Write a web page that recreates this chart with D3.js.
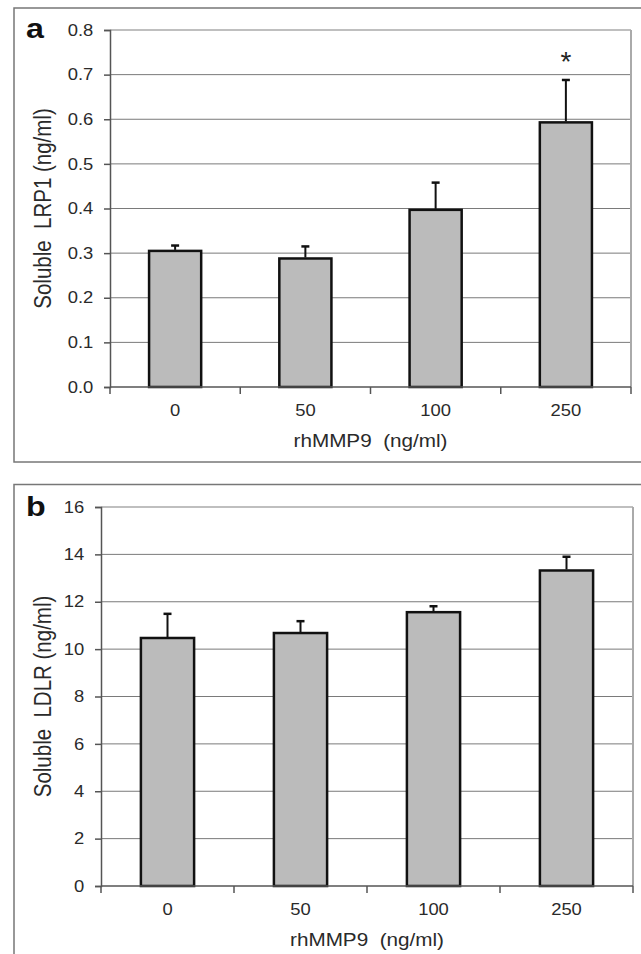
<!DOCTYPE html>
<html>
<head>
<meta charset="utf-8">
<script src="https://cdn.jsdelivr.net/npm/d3@7"></script>
<style>
  body { margin: 0; background: #fff; }
  svg { display: block; font-family: "Liberation Sans", Arial, sans-serif; }
</style>
</head>
<body>
<svg id="figure" width="641" height="954"></svg>
<script>
const doses = ["0", "50", "100", "250"];

const lrp1Means = [0.305, 0.288, 0.397, 0.593];
const lrp1Errors = [0.012, 0.027, 0.061, 0.095];
const lrp1Marks = ["", "", "", "*"];
const lrp1Ticks = [0, 0.1, 0.2, 0.3, 0.4, 0.5, 0.6, 0.7, 0.8];

const ldlrMeans = [10.47, 10.68, 11.56, 13.32];
const ldlrErrors = [1.02, 0.50, 0.25, 0.58];
const ldlrMarks = ["", "", "", ""];
const ldlrTicks = [0, 2, 4, 6, 8, 10, 12, 14, 16];

// the source figure is a little wider than tall, so text gets stretched sideways
const stretch = 1.15;
const textColour = "#2a2a2a";

const svg = d3.select("#figure");

const drawPanel = p => {
    // outer box, it runs off the right side of the page
    svg.append("rect")
        .attr("x", 14)
        .attr("y", p.frameTop)
        .attr("width", 700)
        .attr("height", p.frameBottom - p.frameTop)
        .attr("fill", "none")
        .attr("stroke", "#777")
        .attr("stroke-width", 1.5);

    const xScale = d3.scaleBand()
        .domain(doses)
        .range([p.left, p.right])
        .paddingInner(0.6)
        .paddingOuter(0.3);
    const yScale = d3.scaleLinear()
        .domain([p.ticks[0], p.ticks[p.ticks.length - 1]])
        .range([p.bottom, p.top]);

    // grid lines
    svg.append("g")
        .selectAll("line")
        .data(p.ticks.slice(1))
        .join("line")
        .attr("x1", p.left)
        .attr("x2", p.right)
        .attr("y1", d => yScale(d))
        .attr("y2", d => yScale(d))
        .attr("stroke", d => d === p.ticks[p.ticks.length - 1] ? "#aaa" : "#7a7a7a")
        .attr("stroke-width", d => d === p.ticks[p.ticks.length - 1] ? 1.5 : 1);

    svg.append("line")
        .attr("x1", p.right)
        .attr("x2", p.right)
        .attr("y1", p.top)
        .attr("y2", p.bottom)
        .attr("stroke", "#aaa")
        .attr("stroke-width", 2);

    // bars
    svg.append("g")
        .selectAll("rect")
        .data(p.means)
        .join("rect")
        .attr("x", (d, i) => xScale(doses[i]))
        .attr("width", xScale.bandwidth())
        .attr("y", d => yScale(d))
        .attr("height", d => yScale(p.ticks[0]) - yScale(d))
        .attr("fill", "#bbbbbb")
        .attr("stroke", "#111")
        .attr("stroke-width", 2.5);

    // error bars (upper only)
    const errs = svg.append("g")
        .selectAll("g")
        .data(p.means.map((m, i) => ({ dose: doses[i], mean: m, err: p.errors[i], mark: p.marks[i] })))
        .join("g")
        .attr("transform", d => `translate(${xScale(d.dose) + xScale.bandwidth() / 2},0)`);
    errs.append("line")
        .attr("y1", d => yScale(d.mean) - 1)
        .attr("y2", d => yScale(d.mean + d.err))
        .attr("stroke", "#111")
        .attr("stroke-width", 2);
    errs.append("line")
        .attr("x1", -4)
        .attr("x2", 4)
        .attr("y1", d => yScale(d.mean + d.err))
        .attr("y2", d => yScale(d.mean + d.err))
        .attr("stroke", "#111")
        .attr("stroke-width", 2.5);
    errs.append("text")
        .attr("y", d => yScale(d.mean + d.err) - 9)
        .attr("text-anchor", "middle")
        .attr("font-size", 28)
        .attr("fill", "#222")
        .text(d => d.mark);

    // y axis
    const yAxis = svg.append("g")
        .attr("transform", `translate(${p.left},0)`)
        .call(d3.axisLeft(yScale)
            .tickValues(p.ticks)
            .tickSize(6)
            .tickPadding(8.5)
            .tickFormat(p.format));
    yAxis.select(".domain").attr("stroke", "#555").attr("stroke-width", 1.5);
    yAxis.selectAll(".tick line").attr("stroke", "#555").attr("stroke-width", 1.5);
    yAxis.selectAll(".tick text")
        .attr("font-size", 16)
        .attr("font-family", "Liberation Sans, Arial, sans-serif")
        .attr("fill", textColour)
        .attr("transform", `scale(${stretch},1)`);

    // x axis, ticks sit between the categories
    const xAxis = svg.append("g");
    xAxis.append("line")
        .attr("x1", p.left)
        .attr("x2", p.right)
        .attr("y1", p.bottom)
        .attr("y2", p.bottom)
        .attr("stroke", "#555")
        .attr("stroke-width", 1.5);
    xAxis.selectAll(".xtick")
        .data(d3.range(doses.length + 1))
        .join("line")
        .attr("class", "xtick")
        .attr("x1", i => p.left + i * xScale.step())
        .attr("x2", i => p.left + i * xScale.step())
        .attr("y1", p.bottom)
        .attr("y2", p.bottom + 7)
        .attr("stroke", "#555")
        .attr("stroke-width", 1.5);
    xAxis.selectAll(".xlabel")
        .data(doses)
        .join("text")
        .attr("class", "xlabel")
        .attr("transform", d => `translate(${xScale(d) + xScale.bandwidth() / 2},${p.bottom + 29}) scale(${stretch},1)`)
        .attr("text-anchor", "middle")
        .attr("font-size", 16)
        .attr("fill", textColour)
        .text(d => d);

    svg.append("text")
        .attr("transform", `translate(${(p.left + p.right) / 2},${p.bottom + 60}) scale(${stretch},1)`)
        .attr("text-anchor", "middle")
        .attr("font-size", 18)
        .attr("fill", textColour)
        .style("white-space", "pre")
        .text("rhMMP9  (ng/ml)");

    svg.append("text")
        .attr("transform", `translate(51,${(p.top + p.bottom) / 2}) scale(${stretch},1) rotate(-90)`)
        .attr("text-anchor", "middle")
        .attr("font-size", 20.5)
        .attr("fill", textColour)
        .style("white-space", "pre")
        .text(p.yTitle);

    svg.append("text")
        .attr("transform", `translate(26,${p.letterY}) scale(${stretch},1)`)
        .attr("font-size", 28)
        .attr("font-weight", "bold")
        .attr("fill", "#111")
        .text(p.letter);
};

drawPanel({
    letter: "a", letterY: 38,
    frameTop: 8, frameBottom: 462,
    left: 110, right: 631, top: 30, bottom: 387,
    means: lrp1Means, errors: lrp1Errors, marks: lrp1Marks, ticks: lrp1Ticks,
    format: d3.format(".1f"),
    yTitle: "Soluble  LRP1 (ng/ml)"
});

drawPanel({
    letter: "b", letterY: 516,
    frameTop: 484.5, frameBottom: 1000,
    left: 101, right: 633, top: 507, bottom: 886,
    means: ldlrMeans, errors: ldlrErrors, marks: ldlrMarks, ticks: ldlrTicks,
    format: d3.format("d"),
    yTitle: "Soluble  LDLR (ng/ml)"
});
</script>
</body>
</html>
